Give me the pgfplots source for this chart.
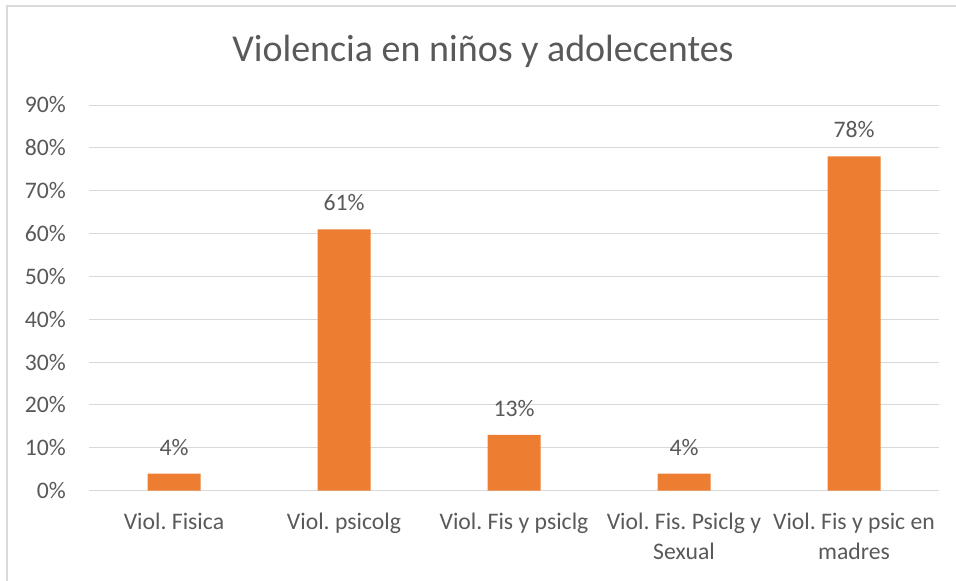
\documentclass[border=0pt]{standalone}
\usepackage{fontspec}
\setmainfont{Carlito}
\usepackage{pgfplots}
\pgfplotsset{compat=1.18}
\definecolor{barorange}{HTML}{ED7D31}
\definecolor{txtgray}{HTML}{595959}
\definecolor{gridgray}{HTML}{D9D9D9}
\frenchspacing

\begin{document}
\begin{tikzpicture}[x=1pt,y=1pt]
\path[use as bounding box] (0,0) rectangle (956,581);
\draw[gridgray, line width=1.3pt] (7,-5) -- (7,575) -- (961,575);
\node[txtgray, anchor=base, font=\fontsize{38}{42}\selectfont] at (483,519) {Violencia en niños y adolecentes};
\begin{axis}[
    at={(89pt,90.3pt)}, anchor=south west,
    scale only axis, width=850pt, height=385.7pt,
    ybar, bar width=53pt,
    xmin=-0.5, xmax=4.5, ymin=0, ymax=90,
    xtick={0,1,2,3,4},
    xticklabels={Viol. Fisica, Viol. psicolg, Viol. Fis y psiclg, {Viol. Fis. Psiclg y\\Sexual}, {Viol. Fis y psic en\\madres}},
    ytick={0,10,...,90},
    /pgf/number format/assume math mode=true,
    yticklabel={\pgfmathprintnumber{\tick}\%},
    major tick length=0pt,
    axis line style={draw=none},
    ymajorgrids, grid style={gridgray, line width=1pt},
    tick label style={txtgray, font=\fontsize{23.7}{30}\selectfont},
    xticklabel style={align=center, anchor=north, inner sep=0pt, yshift=-21.7pt},
    yticklabel style={anchor=east, inner sep=0pt, xshift=-23pt},
    nodes near coords={\pgfmathprintnumber{\pgfplotspointmeta}\%},
    every node near coord/.append style={txtgray, font=\fontsize{23.7}{30}\selectfont, anchor=base, inner sep=0pt, yshift=18.5pt},
]
\addplot[draw=none, fill=barorange] coordinates {
    (0,4) (1,61) (2,13) (3,4) (4,78)
};
\end{axis}
\end{tikzpicture}
\end{document}
